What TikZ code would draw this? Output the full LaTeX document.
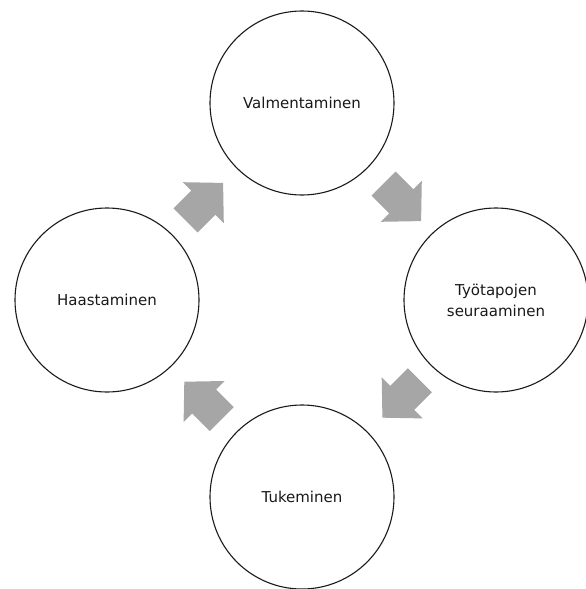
\documentclass[tikz,border=0pt]{standalone}
\usepackage{fontspec}
\setmainfont{DejaVu Sans}
\definecolor{arrowgray}{HTML}{A6A6A6}
\definecolor{ringline}{HTML}{1A1A1A}
\begin{document}
\begin{tikzpicture}[x=1pt,y=-1pt,
  stage/.style={circle, draw=ringline, line width=1.1pt, minimum size=184pt,
    inner sep=0pt, align=center, text=black!90,
    font=\fontsize{15}{21}\selectfont},
  blockarrow/.style={fill=arrowgray, draw=none}]
\useasboundingbox (0,0) rectangle (586,589);
\clip (0,0) rectangle (586,589);
\node[stage] (top) at (302,103) {Valmentaminen};
\node[stage] (right) at (496,300) {Työtapojen\\seuraaminen};
\node[stage] (bottom) at (302,497) {Tukeminen};
\node[stage] (left) at (107,300) {Haastaminen};
\foreach \cx/\cy/\ang in {204/202/45, 402/202/-45, 401.5/398.6/-135, 203.4/400.8/135}{
  \path[blockarrow, shift={(\cx,\cy)}, rotate=\ang]
    (-26,-17) -- (-1,-17) -- (-1,-29) -- (27,0) -- (-1,29) -- (-1,17) -- (-26,17) -- cycle;
}
\end{tikzpicture}
\end{document}
